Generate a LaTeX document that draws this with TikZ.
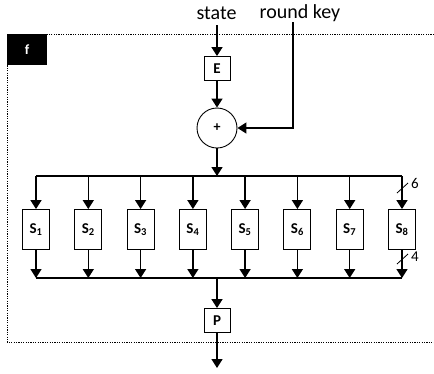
\documentclass[tikz,border=0pt]{standalone}
\usepackage{fontspec}
\setmainfont{Carlito}
\usetikzlibrary{arrows.meta}
\begin{document}
\begin{tikzpicture}[x=1pt,y=-1pt,
  wire/.style={line width=1.5pt,-{Triangle[length=9pt,width=11pt]}},
  bus/.style={line width=1.5pt},
  box/.style={draw,line width=0.9pt,minimum width=26pt,minimum height=24pt,inner sep=0pt,font=\bfseries\fontsize{15}{16}\selectfont},
  sbox/.style={box,minimum width=27pt,minimum height=40pt},
  lbl/.style={font=\fontsize{20}{22}\selectfont,inner sep=0pt},
  small/.style={font=\fontsize{15}{16}\selectfont,inner sep=0pt},
  tick/.style={line width=0.8pt}
]
\useasboundingbox (0,0) rectangle (434,373);
\draw[dash pattern=on 1.2pt off 1.2pt,line width=0.9pt] (434,34) -- (7,34) -- (7,342) -- (434,342);
\node[fill=black,text=white,font=\bfseries\fontsize{14}{15}\selectfont,minimum width=40pt,minimum height=31pt,inner sep=0pt,anchor=north west] (f) at (7,34) {f};

\node[lbl] (state) at (216.5,13) {state};
\node[lbl] (rkey) at (300,13) {round key};
\coordinate (st) at (217,25);
\coordinate (rk) at (293,22);
\node[box] (E) at (217,68.5) {E};
\node[draw,circle,minimum size=40pt,inner sep=0pt,line width=0.9pt,font=\bfseries\fontsize{14}{15}\selectfont] (xor) at (217,128) {+};
\draw[wire] (st) -- (E.north);
\draw[wire] (E.south) -- (xor.north);
\draw[wire] (rk) |- (xor.east);

\coordinate (btop) at (217,176);
\coordinate (bbot) at (217,278);
\draw[wire] (xor.south) -- (btop);
\draw[bus] (36,176) -- (402,176);
\draw[bus] (36,278) -- (402,278);

\foreach \i/\x in {1/36,2/88.3,3/140.6,4/192.9,5/245.1,6/297.4,7/349.7,8/402}{
  \coordinate (t\i) at (\x,176);
  \coordinate (u\i) at (\x,278);
  \node[sbox] (S\i) at (\x,229.5) {S\textsubscript{\i}};
  \draw[wire] (t\i) -- (S\i.north);
  \draw[wire] (S\i.south) -- (u\i);
}

\node[box] (P) at (217,320.5) {P};
\coordinate (out) at (217,368);
\draw[wire] (bbot) -- (P.north);
\draw[wire] (P.south) -- (out);

\draw[tick] (397,193) -- (408,183);
\node[small,anchor=west] (six) at (411,183) {6};
\draw[tick] (397,264) -- (408,254);
\node[small,anchor=west] (four) at (411,257) {4};
\end{tikzpicture}
\end{document}
